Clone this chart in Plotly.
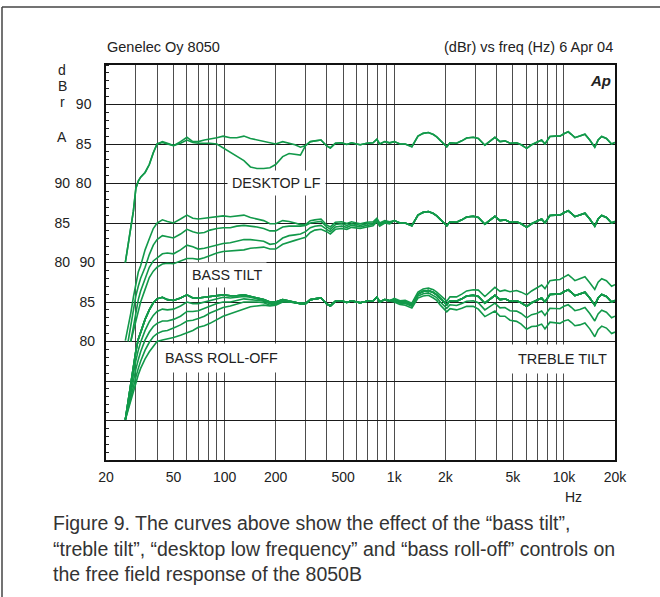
import math
import plotly.graph_objects as go

# ---------------- data ----------------
freq_lo = [26, 27, 28, 29, 30, 31, 32, 34, 36, 38, 40, 43, 46, 50, 55, 60, 65, 70, 76, 82,
           90, 98, 108, 118, 130, 142, 155, 170, 185, 200, 220, 240, 260, 280]
freq_mid = [300, 320, 340, 370, 400, 420, 450, 490, 525, 560, 600, 630, 690, 750, 790, 820, 880, 940]
freq_hi = [1000, 1080, 1160, 1270, 1380, 1480, 1590, 1700, 1780, 1870, 1950, 2040, 2130, 2330, 2500,
           2670, 2920, 3130, 3420, 3650, 3920, 4200, 4490, 4810, 5260, 5600, 6030, 6450, 6900, 7390,
           7730, 8270, 8900, 9470, 10000, 10600, 11100, 11600, 12400, 13300, 14200, 15200, 15900,
           16700, 17800, 19100, 20000]

# shared measured response (dBr) above 300 Hz
base_mid = [84.8, 85.3, 85.4, 85.5, 84.75, 84.5, 85.1, 85.15, 84.95, 85.15, 85.0, 84.9, 85.1, 85.15,
            85.6, 85.0, 85.3, 85.15]
base_hi = [85.3, 85.0, 85.0, 84.65, 86.0, 86.35, 86.45, 86.2, 85.9, 85.4, 85.0, 84.65, 85.15, 85.1,
           85.4, 85.75, 85.85, 85.7, 84.85, 85.3, 85.85, 85.3, 85.4, 85.1, 85.15, 84.9, 84.45, 84.9,
           85.15, 85.5, 85.0, 85.95, 86.0, 86.0, 86.3, 86.55, 86.2, 85.8, 86.0, 86.25, 85.5, 84.6,
           85.5, 85.95, 85.7, 85.0, 85.2]

# DESKTOP LF group (top)
desk_flat_lo = [70.0, 72.2, 74.1, 76.5, 79.4, 80.3, 80.8, 81.4, 82.4, 83.9, 85.0, 85.3, 85.1, 84.8,
                85.3, 85.85, 85.3, 85.3, 85.5, 85.6, 85.8, 86.0, 85.8, 85.8, 86.0, 85.7, 85.5, 85.3,
                85.1, 85.0, 85.3, 85.1, 84.9, 84.6]
desk_lf_lo = [70.0, 72.2, 74.1, 76.5, 79.4, 80.3, 80.8, 81.4, 82.4, 83.9, 85.0, 85.2, 85.0, 84.8,
              85.1, 85.5, 85.2, 85.1, 85.1, 85.1, 85.0, 84.5, 84.0, 83.5, 82.9, 82.1, 81.9, 81.9,
              82.0, 82.4, 83.4, 83.8, 83.7, 83.6]

# BASS TILT group (middle)
tilt_0_lo = [70.1, 71.8, 73.6, 75.6, 77.5, 78.8, 79.6, 81.6, 83.0, 84.3, 85.0, 85.4, 85.2, 85.0,
             85.5, 86.0, 85.6, 85.5, 85.6, 85.7, 85.8, 85.9, 85.8, 85.9, 86.0, 85.7, 85.5, 85.3,
             84.9, 84.9, 85.3, 85.2, 85.0, 84.8]
tilt_2_lo = [None, 70.0, 72.0, 74.0, 75.8, 77.0, 78.0, 79.4, 81.0, 82.2, 82.9, 83.4, 83.3, 83.1,
             83.6, 84.2, 83.9, 83.7, 83.8, 84.1, 84.3, 84.4, 84.4, 84.6, 84.7, 84.6, 84.5, 84.3,
             84.0, 84.0, 84.5, 84.6, 84.6, 84.6]
tilt_4_lo = [None, None, 70.0, 71.8, 74.0, 75.3, 76.4, 78.0, 79.4, 80.2, 80.6, 81.1, 81.2, 81.1,
             81.6, 82.2, 82.0, 81.7, 81.8, 82.0, 82.2, 82.4, 82.5, 82.7, 82.9, 82.9, 82.8, 82.7,
             82.3, 82.4, 83.1, 83.4, 83.5, 83.6]
tilt_6_lo = [None, None, 70.0, 71.4, 72.8, 74.0, 75.0, 76.6, 78.1, 78.9, 79.4, 79.8, 79.9, 79.85,
             80.2, 80.5, 80.5, 80.4, 80.6, 80.9, 81.2, 81.4, 81.5, 81.5, 81.6, 81.8, 81.9, 81.95,
             81.7, 81.7, 82.3, 82.6, 82.8, 83.0]
tilt_2_mid = [84.7, 85.0, 85.1, 85.2, 84.5, 84.2, 84.8, 84.9, 84.7, 84.9, 84.8, 84.7, 84.9, 85.0,
              85.45, 84.9, 85.2, 85.05]
tilt_4_mid = [83.9, 84.4, 84.6, 84.7, 84.2, 83.9, 84.5, 84.6, 84.45, 84.7, 84.6, 84.5, 84.7, 84.8,
              85.3, 84.75, 85.1, 85.0]
tilt_6_mid = [83.2, 83.8, 84.1, 84.2, 83.9, 83.6, 84.2, 84.3, 84.2, 84.45, 84.4, 84.3, 84.5, 84.65,
              85.15, 84.6, 85.0, 84.9]

# BASS ROLL-OFF / TREBLE TILT group (bottom)
roll_0_lo = [70.1, 72.5, 75.0, 77.0, 78.8, 80.3, 81.2, 82.8, 84.0, 84.9, 85.4, 85.6, 85.3, 85.2,
             85.5, 85.9, 85.5, 85.5, 85.6, 85.7, 85.8, 85.9, 85.8, 85.8, 85.9, 85.7, 85.5, 85.3,
             85.0, 85.0, 85.3, 85.1, 84.9, 84.8]
roll_2_lo = [70.1, 72.2, 74.2, 76.0, 77.6, 78.9, 79.9, 81.4, 82.5, 83.3, 83.8, 84.1, 84.0, 84.1,
             84.5, 85.0, 84.8, 84.8, 85.0, 85.2, 85.4, 85.6, 85.5, 85.6, 85.7, 85.6, 85.4, 85.2,
             84.9, 84.9, 85.25, 85.1, 84.9, 84.8]
roll_4_lo = [70.1, 71.9, 73.6, 75.1, 76.5, 77.7, 78.7, 80.2, 81.2, 81.9, 82.3, 82.6, 82.6, 82.8,
             83.2, 83.8, 83.8, 83.9, 84.2, 84.5, 84.8, 85.0, 85.0, 85.2, 85.4, 85.3, 85.2, 85.1,
             84.8, 84.8, 85.2, 85.05, 84.9, 84.8]
roll_6_lo = [70.1, 71.6, 73.0, 74.3, 75.5, 76.6, 77.5, 78.9, 79.9, 80.6, 81.0, 81.3, 81.4, 81.7,
             82.1, 82.6, 82.7, 82.9, 83.2, 83.6, 84.0, 84.3, 84.5, 84.7, 85.0, 85.0, 85.0, 84.9,
             84.6, 84.7, 85.1, 85.0, 84.9, 84.8]
roll_8_lo = [70.1, 71.4, 72.6, 73.8, 74.9, 75.8, 76.6, 77.8, 78.7, 79.4, 80.0, 80.2, 80.3, 80.5,
             80.8, 81.1, 81.4, 81.8, 82.0, 82.3, 82.8, 83.2, 83.5, 83.8, 84.2, 84.4, 84.5, 84.6,
             84.5, 84.6, 85.0, 85.0, 84.9, 84.8]
treble_p2_hi = [85.45, 85.15, 85.2, 84.85, 86.25, 86.65, 86.75, 86.55, 86.25, 85.8, 85.4, 85.1, 85.65,
                85.65, 86.0, 86.4, 86.55, 86.5, 85.7, 86.2, 86.85, 86.35, 86.5, 86.3, 86.45, 86.25,
                85.9, 86.4, 86.75, 87.15, 86.7, 87.7, 87.8, 87.85, 88.15, 88.45, 88.1, 87.7, 87.95,
                88.2, 87.45, 86.6, 87.5, 87.95, 87.7, 87.0, 87.2]
treble_m2_hi = [85.15, 84.85, 84.8, 84.45, 85.75, 86.05, 86.15, 85.85, 85.55, 85.0, 84.6, 84.2, 84.65,
                84.55, 84.8, 85.1, 85.15, 84.9, 84.0, 84.4, 84.85, 84.25, 84.3, 83.9, 83.85, 83.55,
                83.0, 83.4, 83.55, 83.85, 83.3, 84.2, 84.2, 84.15, 84.45, 84.65, 84.3, 83.9, 84.05,
                84.3, 83.55, 82.6, 83.5, 83.95, 83.7, 83.0, 83.2]
treble_m4_hi = [85.0, 84.7, 84.6, 84.25, 85.5, 85.75, 85.85, 85.5, 85.2, 84.6, 84.2, 83.75, 84.15,
                84.0, 84.2, 84.45, 84.45, 84.1, 83.15, 83.5, 83.85, 83.2, 83.2, 82.7, 82.55, 82.2,
                81.55, 81.9, 81.95, 82.2, 81.6, 82.45, 82.4, 82.3, 82.6, 82.75, 82.4, 82.0, 82.1,
                82.35, 81.6, 80.6, 81.5, 81.95, 81.7, 81.0, 81.2]

grid_freqs = [20, 30, 40, 50, 60, 70, 80, 90, 100, 200, 300, 400, 500, 600, 700, 800, 900,
              1000, 2000, 3000, 4000, 5000, 6000, 7000, 8000, 9000, 10000, 20000]
x_labels = {20: "20", 50: "50", 100: "100", 200: "200", 500: "500", 1000: "1k",
            2000: "2k", 5000: "5k", 10000: "10k", 20000: "20k"}
db_ticks = [80, 85, 90]

# ---------------- figure ----------------
GREEN = "#12994a"
FONT = "Liberation Sans, Arial, Helvetica, sans-serif"
fig = go.Figure()


def add(fx, fy, axis):
    fig.add_trace(go.Scatter(x=fx, y=fy, mode="lines", yaxis=axis,
                             line=dict(color=GREEN, width=1.6),
                             hoverinfo="skip", showlegend=False))


f_all = freq_lo + freq_mid + freq_hi
# top group
add(f_all, desk_lf_lo + base_mid + base_hi, "y")
add(f_all, desk_flat_lo + base_mid + base_hi, "y")
# middle group
add(f_all, tilt_6_lo + tilt_6_mid + base_hi, "y2")
add(f_all, tilt_4_lo + tilt_4_mid + base_hi, "y2")
add(f_all, tilt_2_lo + tilt_2_mid + base_hi, "y2")
add(f_all, tilt_0_lo + base_mid + base_hi, "y2")
# bottom group
for lo in (roll_8_lo, roll_6_lo, roll_4_lo, roll_2_lo, roll_0_lo):
    add(f_all, lo + base_mid + base_hi, "y3")
for hi in (treble_m4_hi, treble_m2_hi, treble_p2_hi):
    add(f_all, roll_0_lo + base_mid + hi, "y3")

tickfont = dict(family=FONT, size=14, color="#222")
main_vals = list(range(45, 96, 5))
main_text = [str(v) if v in db_ticks else "" for v in main_vals]

fig.update_layout(
    width=660, height=597,
    margin=dict(l=106, r=45, t=65, b=137),
    paper_bgcolor="white", plot_bgcolor="white",
    font=dict(family=FONT, color="#222"),
    xaxis=dict(type="log", range=[math.log10(20), math.log10(20000)],
               tickmode="array", tickvals=grid_freqs,
               ticktext=[x_labels.get(f, "") for f in grid_freqs],
               showgrid=True, gridcolor="#4d4d4d", gridwidth=1,
               showline=True, linecolor="#111", linewidth=1.5, mirror=True,
               ticks="", zeroline=False, tickfont=tickfont, ticklabelstandoff=3),
    yaxis=dict(range=[45, 95], tickmode="array", tickvals=main_vals, ticktext=main_text,
               showgrid=True, gridcolor="#1a1a1a", gridwidth=1.4,
               showline=True, linecolor="#111", linewidth=1.5, mirror=True,
               ticks="", zeroline=False, tickfont=tickfont, ticklabelstandoff=10,
               minor=dict(tickmode="linear", tick0=0, dtick=1, ticks="inside",
                          ticklen=3, tickwidth=1, tickcolor="#222", showgrid=False)),
    yaxis2=dict(overlaying="y", range=[55, 105], tickmode="array", tickvals=db_ticks,
                showgrid=False, showline=False, ticks="", zeroline=False,
                tickfont=tickfont, ticklabelstandoff=35),
    yaxis3=dict(overlaying="y", range=[65, 115], tickmode="array", tickvals=db_ticks,
                showgrid=False, showline=False, ticks="", zeroline=False,
                tickfont=tickfont, ticklabelstandoff=10),
)


def px_x(px):
    return (px - 106) / 509.0


def px_y(py):
    return (460 - py) / 395.0


def note(text, px, py, size=13, xanchor="center", bg=None, pad=1):
    fig.add_annotation(text=text, x=px_x(px), y=px_y(py), xref="paper", yref="paper",
                       xanchor=xanchor, yanchor="middle", showarrow=False,
                       font=dict(family=FONT, size=size, color="#222"),
                       bgcolor=bg, borderpad=pad)


note("Genelec Oy 8050", 105, 47, size=14.5, xanchor="left")
note("(dBr) vs freq (Hz) 6 Apr 04", 615, 47, size=14.5, xanchor="right")
note("<b><i>Ap</i></b>", 613, 80, size=15, xanchor="right")
for ch, py in (("d", 70), ("B", 86), ("r", 102), ("A", 137)):
    note(ch, 62, py, size=14)
note("Hz", 573, 497, size=14)
note("DESKTOP LF", 276, 183, size=14.3, bg="white", pad=4)
note("BASS TILT", 227, 275, size=14.3, bg="white", pad=4)
note("BASS ROLL-OFF", 221, 358, size=14.3, bg="white", pad=6)
note("TREBLE TILT", 562, 359, size=14.5, bg="white", pad=6)

caption = ["Figure 9. The curves above show the effect of the “bass tilt”,",
           "“treble tilt”, “desktop low frequency” and “bass roll-off” controls on",
           "the free field response of the 8050B"]
for line, py in zip(caption, (523, 549, 574)):
    fig.add_annotation(text=line, x=px_x(51), y=px_y(py), xref="paper", yref="paper",
                       xanchor="left", yanchor="middle", showarrow=False,
                       font=dict(family=FONT, size=19.5, color="#333"))

# outer frame of the figure box
fig.add_shape(type="line", xref="paper", yref="paper",
              x0=px_x(2), y0=px_y(7), x1=px_x(700), y1=px_y(7),
              line=dict(color="#444", width=1.5))
fig.add_shape(type="line", xref="paper", yref="paper",
              x0=px_x(2), y0=px_y(7), x1=px_x(2), y1=px_y(700),
              line=dict(color="#444", width=1.5))

fig.write_html("out.html", config={"displayModeBar": False},
               post_script="document.body.style.margin='0';document.body.style.overflow='hidden';")
